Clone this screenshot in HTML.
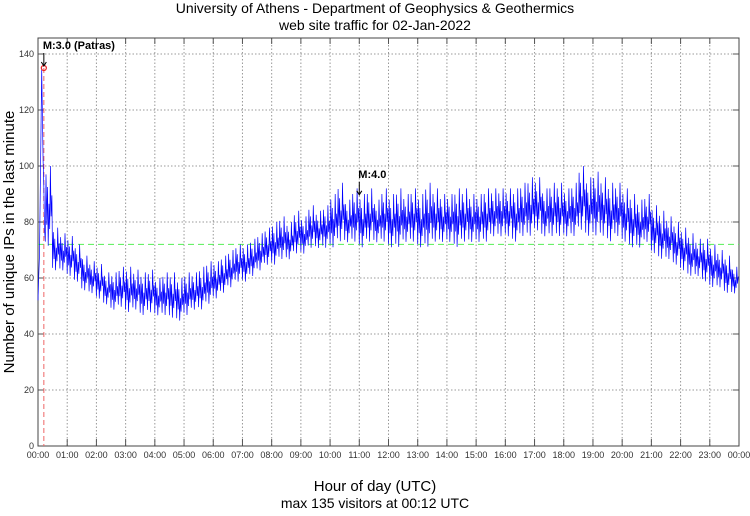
<!DOCTYPE html>
<html><head><meta charset="utf-8"><style>
body{margin:0;background:#fff;}
svg text{font-family:"Liberation Sans",sans-serif;}
</style></head><body>
<svg id="c" width="750" height="511" xmlns="http://www.w3.org/2000/svg">
<text x="375" y="13" text-anchor="middle" font-size="14">University of Athens - Department of Geophysics &amp; Geothermics</text>
<text x="375" y="30" text-anchor="middle" font-size="14">web site traffic for 02-Jan-2022</text>
<text x="375" y="491" text-anchor="middle" font-size="15">Hour of day (UTC)</text>
<text x="375" y="508" text-anchor="middle" font-size="14">max 135 visitors at 00:12 UTC</text>
<text transform="translate(14,242) rotate(-90)" text-anchor="middle" font-size="15">Number of unique IPs in the last minute</text>
<g id="grid"></g><g id="series"></g><g id="anno"></g>
</svg>
<script>
const hourLabels=["00:00","01:00","02:00","03:00","04:00","05:00","06:00","07:00","08:00","09:00","10:00","11:00","12:00","13:00","14:00","15:00","16:00","17:00","18:00","19:00","20:00","21:00","22:00","23:00","00:00"];
const yTicks=[0,20,40,60,80,100,120,140];
const lo=[52,70,62,62, 60,58,55,54, 52,50,48,49, 47,48,46,47, 46,46,45,44, 46,48,48,50, 52,54,56,58, 58,60,62,64, 64,66,66,68, 68,70,70,70, 70,72,72,72, 70,72,72,72, 70,70,72,72, 70,70,72,72, 72,70,72,72, 72,72,74,74, 74,72,74,74, 76,74,74,74, 74,74,76,74, 74,74,72,74, 72,70,70,72, 68,66,66,64, 62,60,60,58, 56,56,54,54];
const hi=[135,100,78,76, 75,72,68,66, 65,62,62,64, 64,63,62,63, 60,62,62,60, 62,62,64,66, 66,68,70,72, 72,74,76,78, 80,82,80,84, 82,86,84,86, 90,94,88,92, 90,92,88,92, 90,92,90,92, 90,94,92,90, 90,92,92,90, 90,92,92,92, 92,92,94,96, 96,92,94,94, 92,94,100,96, 98,96,94,94, 92,90,88,90, 86,84,82,80, 78,76,74,74, 72,70,68,64];
const average=[72];
const peak={hour:0.2,value:135,label:"M:3.0 (Patras)"};
const quake2={hour:11,value:89,label:"M:4.0"};
const L=38,R=739,T=38,B=446,Y140=54;
const xs=h=>L+(R-L)*h/24, ys=v=>B-(B-Y140)*v/140;
const NS="http://www.w3.org/2000/svg";
function mk(p,tag,at){const e=document.createElementNS(NS,tag);for(const k in at)e.setAttribute(k,at[k]);p.appendChild(e);return e;}
const g=document.getElementById('grid'),s=document.getElementById('series'),a=document.getElementById('anno');
yTicks.forEach(v=>{const y=ys(v);
 if(v>0){const l=mk(g,'line',{x1:L,x2:R,y1:y,y2:y,stroke:'#999','stroke-dasharray':'1.5,2','stroke-width':1});
 
 }
 mk(g,'line',{x1:L,x2:L+6,y1:y,y2:y,stroke:'#555'});mk(g,'line',{x1:R-6,x2:R,y1:y,y2:y,stroke:'#555'});
 const t=mk(g,'text',{x:L-4,y:y+3,'text-anchor':'end','font-size':9,fill:'#333'});t.textContent=v;
 
 });
hourLabels.forEach((lab,i)=>{const x=xs(i);
 if(i>0&&i<24){const l=mk(g,'line',{x1:x,x2:x,y1:T,y2:B,stroke:'#999','stroke-dasharray':'1.5,2','stroke-width':1});
 
 }
 mk(g,'line',{x1:x,x2:x,y1:B-7,y2:B,stroke:'#555'});mk(g,'line',{x1:x,x2:x,y1:T,y2:T+6,stroke:'#555'});
 const t=mk(g,'text',{x:x,y:B+12,'text-anchor':'middle','font-size':9,fill:'#333'});t.textContent=lab;
 
 });
const fr=mk(g,'rect',{x:L,y:T,width:R-L,height:B-T,fill:'none',stroke:'#444'});


const av=mk(s,'line',{x1:L,x2:R,y1:ys(average[0]),y2:ys(average[0]),stroke:'#5e5','stroke-dasharray':'6,4','stroke-width':1});


const vl=mk(s,'line',{x1:xs(peak.hour),x2:xs(peak.hour),y1:ys(peak.value),y2:B,stroke:'#e66','stroke-dasharray':'5,3'});


const jitter=[0.1,0.9,0.3,0.75,0.05,0.55,0.25,1,0.4,0.65];
const firstShape=[0,0.1,0.2,0.45,0.7,1,0.8,0.6,0.5,0.3];
let pts=[];const n=lo.length;
for(let i=0;i<n;i++){const h0=i*24/n,st=24/n;const pat=i===0?firstShape:jitter;
 pat.forEach((f,k)=>{
  pts.push(xs(h0+st*k/pat.length).toFixed(1)+','+ys(lo[i]+(hi[i]-lo[i])*f).toFixed(1));});}
const pl=mk(s,'polyline',{points:pts.join(' '),fill:'none',stroke:'#00f','stroke-width':0.7});


const c=mk(a,'circle',{cx:xs(peak.hour),cy:ys(peak.value),r:2.5,fill:'none',stroke:'#e22','stroke-width':1.2});


[[peak,'quake-annotation-patras'],[quake2,'quake-annotation-m4']].forEach(([q,nm])=>{const x=xs(q.hour),y=ys(q.value);
 const t=mk(a,'text',{x:x-1,y:y-19,'font-size':11,'font-weight':'bold'});t.textContent=q.label;
 
 
 mk(a,'line',{x1:x,x2:x,y1:y-15,y2:y-3,stroke:'#000'});
 mk(a,'path',{d:`M${x-2.5},${y-6} L${x},${y-2} L${x+2.5},${y-6}`,fill:'none',stroke:'#000'});});
</script>
</body></html>
